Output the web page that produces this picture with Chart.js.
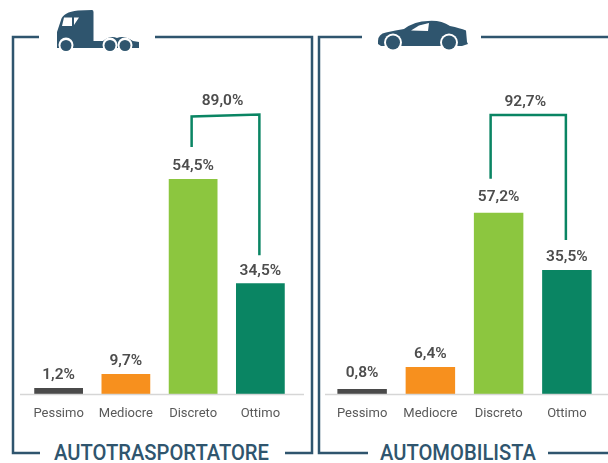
<!DOCTYPE html>
<html>
<head>
<meta charset="utf-8">
<style>
  html, body { margin: 0; padding: 0; background: #fff; }
  #page { position: relative; width: 608px; height: 463px; overflow: hidden; }
  #page svg, #page canvas { position: absolute; top: 0; }
  #page svg { left: 0; }
  #truckChart { left: 0; }
  #carChart { left: 316px; }
</style>
</head>
<body>
<div id="page">
  <svg width="608" height="463" viewBox="0 0 608 463">
    <g fill="none" stroke="#2f556e" stroke-width="2.5">
      <path d="M39 37H13V453H40"/>
      <path d="M155 37H312V453H285"/>
      <path d="M362 37H319V453H368"/>
      <path d="M481 37H608"/>
      <path d="M548 453H608"/>
    </g>
    <!-- truck -->
    <g fill="#2f556e">
      <path d="M57 48V32L61 20Q63 12 78 10.5L92 10Q93.500 10 93.500 12V41H103Q110 35 117 38Q124 35 133 41L139 42V48Z"/>
      <circle cx="66" cy="45" r="7.500" fill="#fff"/>
      <circle cx="110" cy="45" r="7.500" fill="#fff"/>
      <circle cx="125" cy="45" r="7.500" fill="#fff"/>
      <circle cx="66" cy="45.500" r="5.500"/>
      <circle cx="110" cy="45.500" r="5.500"/>
      <circle cx="125" cy="45.500" r="5.500"/>
      <path d="M64 17.500H72V26H62Z M74 17.500H79L74 25Z" fill="#fff"/>
    </g>
    <!-- car -->
    <g fill="#2f556e">
      <path d="M378 41Q378 34 386 32.500Q396 30 404 29Q415 21 428 21Q441 20 450 26Q460 28 466 30.500L467 42L468 44L462 46H381L378 44Z"/>
      <path d="M411 30.500L419 25.500L429 23L428 31Z" fill="#fff"/>
      <circle cx="393" cy="42.500" r="9" fill="#fff"/>
      <circle cx="449" cy="42.500" r="9" fill="#fff"/>
      <circle cx="393" cy="42.500" r="7"/>
      <circle cx="449" cy="42.500" r="7"/>
    </g>
    <g fill="#2f556e" font-family="Roboto" font-weight="500" font-size="22" text-anchor="middle">
      <text x="161.500" y="460" textLength="215" lengthAdjust="spacingAndGlyphs">AUTOTRASPORTATORE</text>
      <text x="458" y="460" textLength="156" lengthAdjust="spacingAndGlyphs">AUTOMOBILISTA</text>
    </g>
  </svg>
  <canvas id="truckChart" width="316" height="463"></canvas>
  <canvas id="carChart" width="292" height="463"></canvas>
</div>

<script src="https://cdn.jsdelivr.net/npm/chart.js@4"></script>
<script>
  const categories = ["Pessimo", "Mediocre", "Discreto", "Ottimo"];
  const barColors = ["#4a4a4a", "#f7901e", "#8cc63f", "#0a8563"];

  // printed percentages
  const truckValues = [1.2, 9.7, 54.5, 34.5];
  const carValues = [0.8, 6.4, 57.2, 35.5];
  const truckBracket = 89.0;
  const carBracket = 92.7;

  // bar lengths as drawn in the picture: the source art is not to scale with
  // its own labels, so these are read from the bars and not from the text
  const truckDrawn = [1.5, 5.1, 54.5, 28.1];
  const carDrawn = [1.6, 8.5, 57.2, 39.1];

  const fmt = v => v.toFixed(1).replace(".", ",") + "%";

  const annotate = {
    id: "annotate",
    afterDatasetsDraw(chart, args, opts) {
      const c = chart.ctx;
      const meta = chart.getDatasetMeta(0);
      const yAxis = chart.scales.y;

      // grey base line runs wider than the plot
      c.save();
      c.strokeStyle = "#d6d6d6";
      c.lineWidth = 1.5;
      c.beginPath();
      c.moveTo(opts.baseFrom, yAxis.bottom + 0.5);
      c.lineTo(opts.baseTo, yAxis.bottom + 0.5);
      c.stroke();

      // value labels
      c.font = "600 15.5px Roboto";
      c.fillStyle = "#4d4d4d";
      c.textAlign = "center";
      c.textBaseline = "middle";
      meta.data.forEach((bar, i) => {
        c.fillText(fmt(opts.values[i]), bar.x, bar.y - opts.labelGaps[i]);
      });

      // bracket from Discreto to Ottimo
      const a = meta.data[2];
      const b = meta.data[3];
      const left = a.x + opts.bracketShift;
      const right = b.x - 1;
      c.strokeStyle = "#0a8563";
      c.lineWidth = 2.5;
      c.beginPath();
      c.moveTo(left, a.y - opts.bracketGaps[0]);
      c.lineTo(left, opts.bracketTop + opts.bracketTilt);
      c.lineTo(right, opts.bracketTop);
      c.lineTo(right, b.y - opts.bracketGaps[1]);
      c.stroke();
      c.fillText(fmt(opts.bracket), (left + right) / 2 - 3, opts.bracketTop - 13);
      c.restore();
    }
  };

  function makeChart(id, drawn, yMax, pad, note) {
    return new Chart(document.getElementById(id), {
      type: "bar",
      data: {
        labels: categories,
        datasets: [{
          data: drawn,
          backgroundColor: barColors,
          categoryPercentage: 1,
          barPercentage: 0.725
        }]
      },
      options: {
        responsive: false,
        animation: false,
        layout: { padding: { top: 39, left: pad[0], right: pad[1], bottom: 0 } },
        scales: {
          x: {
            afterFit: s => { s.height = 69; },
            grid: { display: false },
            border: { display: false },
            ticks: {
              padding: 4,
              color: "#595959",
              font: { family: "Roboto", size: 13 },
              maxRotation: 0,
              autoSkip: false
            }
          },
          y: { display: false, min: 0, max: yMax }
        },
        plugins: {
          legend: { display: false },
          tooltip: { enabled: false },
          annotate: note
        }
      },
      plugins: [annotate]
    });
  }

  makeChart("truckChart", truckDrawn, 90, [25, 22], {
    values: truckValues,
    labelGaps: [13, 13, 13, 12],
    bracket: truckBracket,
    bracketTop: 114.5,
    bracketTilt: 2,
    bracketShift: -1.5,
    bracketGaps: [32, 28],
    baseFrom: 20,
    baseTo: 304
  });

  makeChart("carChart", carDrawn, 112, [12, 7], {
    values: carValues,
    labelGaps: [16, 13, 16, 13],
    bracket: carBracket,
    bracketTop: 115,
    bracketTilt: 0,
    bracketShift: -8,
    bracketGaps: [34, 30],
    baseFrom: 9,
    baseTo: 292
  });
</script>
</body>
</html>
